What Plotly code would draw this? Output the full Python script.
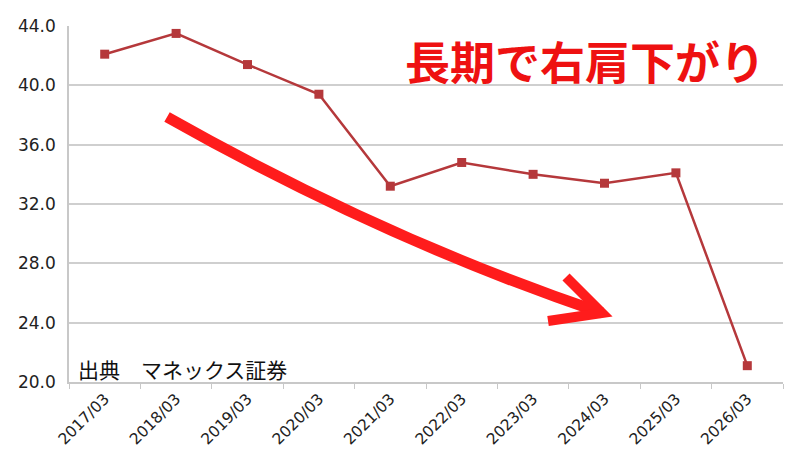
import plotly.graph_objects as go

periods = ["2017/03", "2018/03", "2019/03", "2020/03", "2021/03",
           "2022/03", "2023/03", "2024/03", "2025/03", "2026/03"]
values = [42.1, 43.5, 41.4, 39.4, 33.2, 34.8, 34.0, 33.4, 34.1, 21.1]
y_ticks = [20, 24, 28, 32, 36, 40, 44]
title_text = "長期で右肩下がり"
source_text = "出典　マネックス証券"

W, H = 800, 450
L, R, T, B = 69, 17, 26, 68
PW, PH = W - L - R, H - T - B


def px(x):
    return (x - L) / PW


def py(y):
    return (H - B - y) / PH


line_color = "#b5383b"
arrow_color = "#ff1c1c"

fig = go.Figure()
fig.add_trace(go.Scatter(
    x=periods, y=values, mode="lines+markers",
    line=dict(color=line_color, width=2.5),
    marker=dict(symbol="square", size=9, color=line_color),
    hoverinfo="skip", showlegend=False,
))

arrow_body = (f"M {px(167):.4f},{py(117):.4f} "
              f"Q {px(383):.4f},{py(239):.4f} {px(602):.4f},{py(313):.4f}")
arrow_head = (f"M {px(566):.4f},{py(277):.4f} "
              f"L {px(602):.4f},{py(313):.4f} L {px(548):.4f},{py(321):.4f}")

fig.update_layout(
    width=W, height=H,
    margin=dict(l=L, r=R, t=T, b=B, autoexpand=False),
    paper_bgcolor="white", plot_bgcolor="white",
    font=dict(family="DejaVu Sans, Arial, sans-serif", color="#222"),
    xaxis=dict(
        type="category", range=[-0.5, len(periods) - 0.5],
        showgrid=False, showline=True, linecolor="#c8c8c8",
        linewidth=1.5, ticks="outside", tickson="boundaries", ticklen=5,
        tickcolor="#c8c8c8", tickangle=-45, automargin=False,
        tickfont=dict(family="DejaVu Sans", size=15.5, color="#222"),
        fixedrange=True,
    ),
    yaxis=dict(
        range=[20, 44], tickvals=y_ticks, tickformat=".1f", automargin=False,
        showgrid=True, gridcolor="#cfcfcf", gridwidth=1.5, zeroline=False,
        showline=True, linecolor="#c8c8c8", linewidth=1.5,
        ticks="", ticklabelstandoff=8,
        tickfont=dict(family="DejaVu Sans", size=17, color="#222"),
        fixedrange=True,
    ),
    shapes=[
        dict(type="path", path=arrow_body, xref="paper", yref="paper",
             line=dict(color=arrow_color, width=11)),
        dict(type="path", path=arrow_head, xref="paper", yref="paper",
             line=dict(color=arrow_color, width=10)),
    ],
    annotations=[
        dict(text=f"<b>{title_text}</b>", x=px(585), y=py(61), xref="paper",
             yref="paper", showarrow=False, xanchor="center", yanchor="middle",
             font=dict(family="Noto Sans CJK JP", size=45, color="#ee1111")),
        dict(text=source_text, x=px(76), y=py(369), xref="paper", yref="paper",
             showarrow=False, xanchor="left", yanchor="middle",
             font=dict(family="Noto Sans CJK JP", size=21, color="#111")),
    ],
)

fig.write_html(
    "out.html",
    config={"displayModeBar": False},
    post_script="document.body.style.margin='0';document.body.style.overflow='hidden';",
)
